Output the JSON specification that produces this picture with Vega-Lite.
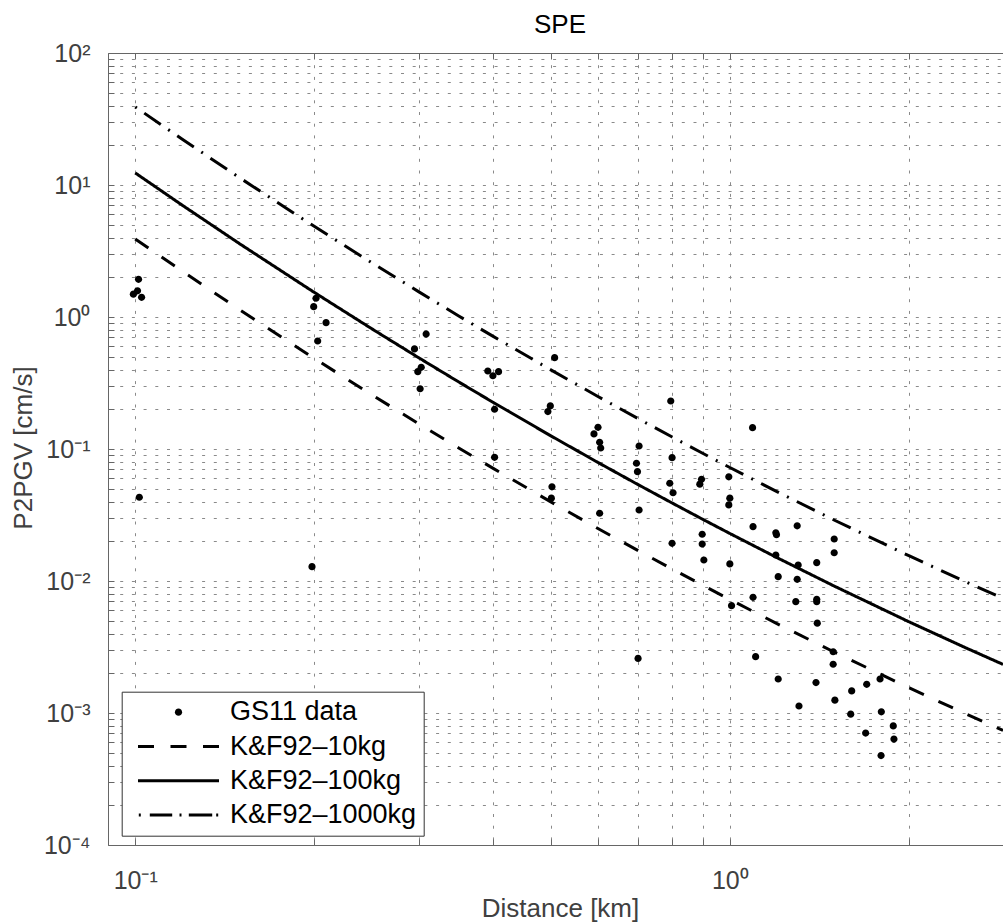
{
  "$schema": "https://vega.github.io/schema/vega-lite/v6.json",
  "width": 895,
  "height": 792,
  "autosize": "none",
  "padding": {"left": 108, "top": 53, "right": 0, "bottom": 79},
  "background": "white",
  "config": {"view": {"stroke": null}, "font": "Liberation Sans", "title": {"fontSize": 26, "fontWeight": "normal", "color": "black"}},
  "title": {"text": "SPE", "fontSize": 26, "fontWeight": "normal", "color": "black", "font": "Liberation Sans", "anchor": "middle", "frame": "group", "dx": 4.5, "offset": -18, "baseline": "alphabetic"},
  "datasets": {
    "points": [
      {"x": 0.1013, "y": 1.93}, {"x": 0.1009, "y": 1.58}, {"x": 0.0993, "y": 1.49}, {"x": 0.1025, "y": 1.41}, {"x": 0.1016, "y": 0.0431},
      {"x": 0.2014, "y": 1.387}, {"x": 0.1996, "y": 1.197}, {"x": 0.2094, "y": 0.906}, {"x": 0.2027, "y": 0.658}, {"x": 0.1983, "y": 0.01283},
      {"x": 0.2949, "y": 0.573}, {"x": 0.3027, "y": 0.416}, {"x": 0.2987, "y": 0.385}, {"x": 0.3014, "y": 0.286}, {"x": 0.3085, "y": 0.743},
      {"x": 0.3917, "y": 0.39}, {"x": 0.3995, "y": 0.359}, {"x": 0.4084, "y": 0.385}, {"x": 0.4021, "y": 0.2}, {"x": 0.4021, "y": 0.0865},
      {"x": 0.5074, "y": 0.492}, {"x": 0.499, "y": 0.212}, {"x": 0.4943, "y": 0.192}, {"x": 0.5022, "y": 0.0517}, {"x": 0.501, "y": 0.0424},
      {"x": 0.6002, "y": 0.146}, {"x": 0.5909, "y": 0.13}, {"x": 0.604, "y": 0.1125}, {"x": 0.6065, "y": 0.1018}, {"x": 0.604, "y": 0.0326},
      {"x": 0.7037, "y": 0.1054}, {"x": 0.6966, "y": 0.078}, {"x": 0.6993, "y": 0.0673}, {"x": 0.7037, "y": 0.0345}, {"x": 0.7009, "y": 0.00259},
      {"x": 0.7955, "y": 0.231}, {"x": 0.7996, "y": 0.0859}, {"x": 0.7925, "y": 0.055}, {"x": 0.8026, "y": 0.0466}, {"x": 0.7996, "y": 0.0193},
      {"x": 0.8961, "y": 0.0589}, {"x": 0.8903, "y": 0.0541}, {"x": 0.8985, "y": 0.0226}, {"x": 0.8985, "y": 0.01905}, {"x": 0.9043, "y": 0.01442},
      {"x": 0.996, "y": 0.0616}, {"x": 1.0, "y": 0.0424}, {"x": 0.996, "y": 0.0377}, {"x": 1.0, "y": 0.01346}, {"x": 1.0066, "y": 0.0065},
      {"x": 1.092, "y": 0.145}, {"x": 1.094, "y": 0.0258}, {"x": 1.094, "y": 0.00752}, {"x": 1.105, "y": 0.00267},
      {"x": 1.195, "y": 0.0232}, {"x": 1.198, "y": 0.0224}, {"x": 1.195, "y": 0.01574}, {"x": 1.206, "y": 0.01079}, {"x": 1.206, "y": 0.00181},
      {"x": 1.298, "y": 0.0262}, {"x": 1.303, "y": 0.0132}, {"x": 1.298, "y": 0.0103}, {"x": 1.291, "y": 0.00697}, {"x": 1.307, "y": 0.00113},
      {"x": 1.4, "y": 0.01377}, {"x": 1.4, "y": 0.00726}, {"x": 1.4, "y": 0.00697}, {"x": 1.403, "y": 0.00479}, {"x": 1.396, "y": 0.0017},
      {"x": 1.498, "y": 0.0208}, {"x": 1.498, "y": 0.01637}, {"x": 1.492, "y": 0.00291}, {"x": 1.492, "y": 0.00234}, {"x": 1.502, "y": 0.00125},
      {"x": 1.603, "y": 0.00147}, {"x": 1.597, "y": 0.00098},
      {"x": 1.699, "y": 0.00165}, {"x": 1.692, "y": 0.000705},
      {"x": 1.789, "y": 0.00181}, {"x": 1.798, "y": 0.00102}, {"x": 1.796, "y": 0.000476},
      {"x": 1.883, "y": 0.000798}, {"x": 1.888, "y": 0.000635}
    ],
    "lines": [
      {"series": "K&F92–10kg", "x": 0.1, "y": 3.905}, {"series": "K&F92–10kg", "x": 0.12, "y": 2.2215}, {"series": "K&F92–10kg", "x": 0.15, "y": 1.1311},
      {"series": "K&F92–10kg", "x": 0.2, "y": 0.486}, {"series": "K&F92–10kg", "x": 0.25, "y": 0.2574}, {"series": "K&F92–10kg", "x": 0.3, "y": 0.15498},
      {"series": "K&F92–10kg", "x": 0.35, "y": 0.10186}, {"series": "K&F92–10kg", "x": 0.4, "y": 0.07128}, {"series": "K&F92–10kg", "x": 0.5, "y": 0.03978},
      {"series": "K&F92–10kg", "x": 0.6, "y": 0.02501}, {"series": "K&F92–10kg", "x": 0.7, "y": 0.01705}, {"series": "K&F92–10kg", "x": 0.8, "y": 0.01232},
      {"series": "K&F92–10kg", "x": 0.9, "y": 0.009284}, {"series": "K&F92–10kg", "x": 1.0, "y": 0.007245}, {"series": "K&F92–10kg", "x": 1.2, "y": 0.004756},
      {"series": "K&F92–10kg", "x": 1.5, "y": 0.002887}, {"series": "K&F92–10kg", "x": 2.0, "y": 0.001554}, {"series": "K&F92–10kg", "x": 2.5, "y": 0.00098},
      {"series": "K&F92–10kg", "x": 2.88, "y": 0.000738},
      {"series": "K&F92–100kg", "x": 0.1, "y": 12.35}, {"series": "K&F92–100kg", "x": 0.12, "y": 7.025}, {"series": "K&F92–100kg", "x": 0.15, "y": 3.577},
      {"series": "K&F92–100kg", "x": 0.2, "y": 1.537}, {"series": "K&F92–100kg", "x": 0.25, "y": 0.8139}, {"series": "K&F92–100kg", "x": 0.3, "y": 0.4901},
      {"series": "K&F92–100kg", "x": 0.35, "y": 0.3221}, {"series": "K&F92–100kg", "x": 0.4, "y": 0.2254}, {"series": "K&F92–100kg", "x": 0.5, "y": 0.1258},
      {"series": "K&F92–100kg", "x": 0.6, "y": 0.0791}, {"series": "K&F92–100kg", "x": 0.7, "y": 0.05391}, {"series": "K&F92–100kg", "x": 0.8, "y": 0.03895},
      {"series": "K&F92–100kg", "x": 0.9, "y": 0.02936}, {"series": "K&F92–100kg", "x": 1.0, "y": 0.02291}, {"series": "K&F92–100kg", "x": 1.2, "y": 0.01504},
      {"series": "K&F92–100kg", "x": 1.5, "y": 0.009128}, {"series": "K&F92–100kg", "x": 2.0, "y": 0.004914}, {"series": "K&F92–100kg", "x": 2.5, "y": 0.0031},
      {"series": "K&F92–100kg", "x": 2.88, "y": 0.002335},
      {"series": "K&F92–1000kg", "x": 0.1, "y": 39.05}, {"series": "K&F92–1000kg", "x": 0.12, "y": 22.215}, {"series": "K&F92–1000kg", "x": 0.15, "y": 11.311},
      {"series": "K&F92–1000kg", "x": 0.2, "y": 4.86}, {"series": "K&F92–1000kg", "x": 0.25, "y": 2.574}, {"series": "K&F92–1000kg", "x": 0.3, "y": 1.5498},
      {"series": "K&F92–1000kg", "x": 0.35, "y": 1.0186}, {"series": "K&F92–1000kg", "x": 0.4, "y": 0.7128}, {"series": "K&F92–1000kg", "x": 0.5, "y": 0.3978},
      {"series": "K&F92–1000kg", "x": 0.6, "y": 0.2501}, {"series": "K&F92–1000kg", "x": 0.7, "y": 0.1705}, {"series": "K&F92–1000kg", "x": 0.8, "y": 0.1232},
      {"series": "K&F92–1000kg", "x": 0.9, "y": 0.09284}, {"series": "K&F92–1000kg", "x": 1.0, "y": 0.07245}, {"series": "K&F92–1000kg", "x": 1.2, "y": 0.04756},
      {"series": "K&F92–1000kg", "x": 1.5, "y": 0.02887}, {"series": "K&F92–1000kg", "x": 2.0, "y": 0.01554}, {"series": "K&F92–1000kg", "x": 2.5, "y": 0.0098},
      {"series": "K&F92–1000kg", "x": 2.88, "y": 0.00738}
    ]
  },
  "layer": [
    {
      "data": {"name": "points"},
      "mark": {"type": "point", "filled": true, "size": 400, "color": "black", "strokeWidth": 0, "opacity": 1},
      "encoding": {
        "x": {
          "field": "x", "type": "quantitative",
          "scale": {"type": "log", "domain": [0.09, 2.88], "nice": false, "zero": false},
          "axis": {
            "orient": "bottom",
            "values": [0.1, 0.2, 0.3, 0.4, 0.5, 0.6, 0.7, 0.8, 0.9, 1, 2],
            "labelExpr": "datum.value == 0.1 ? '10⁻¹' : datum.value == 1 ? '10⁰' : ''",
            "labelOverlap": false, "labelFlush": false,
            "grid": true, "gridColor": "#8a8a8a", "gridDash": [3, 8.7], "gridWidth": 1,
            "domainColor": "#666", "tickColor": "#666", "tickSize": -6,
            "labelFontSize": 25, "labelColor": "#404040", "labelFont": "Liberation Sans", "labelPadding": 29,
            "title": "Distance [km]", "titleFontSize": 26, "titleFontWeight": "normal", "titleColor": "#404040", "titleFont": "Liberation Sans",
            "titleX": 452, "titleY": 71.5, "titleBaseline": "alphabetic", "titleAlign": "center"
          }
        },
        "y": {
          "field": "y", "type": "quantitative",
          "scale": {"type": "log", "domain": [0.0001, 100], "nice": false, "zero": false},
          "axis": {
            "orient": "left",
            "values": [0.0001, 0.0002, 0.0003, 0.0004, 0.0005, 0.0006, 0.0007, 0.0008, 0.0009,
                       0.001, 0.002, 0.003, 0.004, 0.005, 0.006, 0.007, 0.008, 0.009,
                       0.01, 0.02, 0.03, 0.04, 0.05, 0.06, 0.07, 0.08, 0.09,
                       0.1, 0.2, 0.3, 0.4, 0.5, 0.6, 0.7, 0.8, 0.9,
                       1, 2, 3, 4, 5, 6, 7, 8, 9,
                       10, 20, 30, 40, 50, 60, 70, 80, 90, 100],
            "labelExpr": "datum.value == 100 ? '10²' : datum.value == 10 ? '10¹' : datum.value == 1 ? '10⁰' : datum.value == 0.1 ? '10⁻¹' : datum.value == 0.01 ? '10⁻²' : datum.value == 0.001 ? '10⁻³' : datum.value == 0.0001 ? '10⁻⁴' : ''",
            "labelOverlap": false, "labelFlush": false,
            "grid": true, "gridColor": "#8a8a8a", "gridDash": [3, 8.7], "gridWidth": 1,
            "domainColor": "#666", "tickColor": "#666", "tickSize": -6,
            "labelFontSize": 25, "labelColor": "#404040", "labelFont": "Liberation Sans", "labelPadding": 24,
            "title": "P2PGV [cm/s]", "titleFontSize": 26, "titleFontWeight": "normal", "titleColor": "#404040", "titleFont": "Liberation Sans",
            "titleX": -76.5, "titleY": 394.5, "titleAngle": -90, "titleBaseline": "alphabetic", "titleAlign": "center"
          }
        },
        "shape": {
          "datum": "GS11 data", "type": "nominal",
          "scale": {
            "domain": ["GS11 data", "K&F92–10kg", "K&F92–100kg", "K&F92–1000kg"],
            "range": [
              "M0.36,0A0.36,0.36,0,1,1,-0.36,0A0.36,0.36,0,1,1,0.36,0Z",
              "M-4.05,-0.15H-2.45V0.15H-4.05ZM-0.8,-0.15H0.8V0.15H-0.8ZM2.45,-0.15H4.05V0.15H2.45Z",
              "M-4.05,-0.15H4.05V0.15H-4.05Z",
              "M-3.97,-0.15H-3.77V0.15H-3.97ZM-2.87,-0.15H-0.63V0.15H-2.87ZM0.1,-0.15H0.3V0.15H0.1ZM1.03,-0.15H3.37V0.15H1.03ZM3.77,-0.15H3.97V0.15H3.77Z"
            ]
          },
          "legend": {
            "orient": "none", "legendX": 13.7, "legendY": 638.7,
            "title": null, "padding": 7,
            "strokeColor": "#333", "fillColor": "white",
            "labelFontSize": 27, "labelFont": "Liberation Sans", "labelColor": "black", "labelLimit": 400,
            "symbolSize": 400, "symbolStrokeWidth": 0, "symbolFillColor": "black", "symbolOpacity": 1,
            "rowPadding": 6.3, "symbolOffset": 36.3, "labelOffset": 38
          }
        }
      }
    },
    {
      "data": {"name": "lines"},
      "mark": {"type": "line", "strokeWidth": 3, "color": "black", "clip": true},
      "encoding": {
        "x": {
          "field": "x", "type": "quantitative",
          "scale": {"type": "log", "domain": [0.09, 2.88], "nice": false, "zero": false},
          "axis": {
            "orient": "top",
            "values": [0.1, 0.2, 0.3, 0.4, 0.5, 0.6, 0.7, 0.8, 0.9, 1, 2],
            "labels": false, "grid": false, "title": null,
            "domainColor": "#666", "tickColor": "#666", "tickSize": -6
          }
        },
        "y": {
          "field": "y", "type": "quantitative",
          "scale": {"type": "log", "domain": [0.0001, 100], "nice": false, "zero": false}
        },
        "strokeDash": {
          "field": "series", "type": "nominal",
          "scale": {
            "domain": ["K&F92–10kg", "K&F92–100kg", "K&F92–1000kg"],
            "range": [[16, 16], [1, 0], [2, 9, 20, 9]]
          },
          "legend": null
        }
      }
    }
  ],
  "resolve": {"scale": {"x": "independent"}, "axis": {"x": "independent"}}
}
